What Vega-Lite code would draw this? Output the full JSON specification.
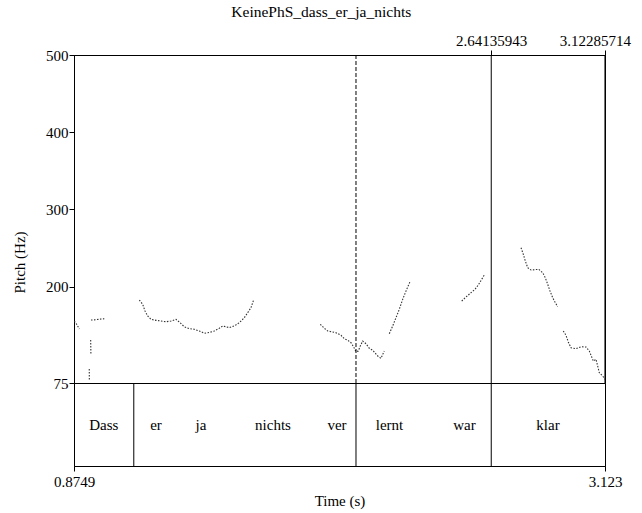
{
  "$schema": "https://vega.github.io/schema/vega-lite/v6.json",
  "background": "white",
  "padding": {"left": 11, "top": 5, "right": 5, "bottom": 5},
  "bounds": "flush",
  "title": {"text": "KeinePhS_dass_er_ja_nichts", "font": "Liberation Serif", "fontSize": 15.5, "fontWeight": "normal", "color": "black", "offset": 12, "anchor": "middle"},
  "config": {
    "view": {"stroke": "black", "strokeWidth": 1},
    "font": "Liberation Serif",
    "axis": {"labelFont": "Liberation Serif", "titleFont": "Liberation Serif", "labelFontSize": 15, "titleFontSize": 15, "titleFontWeight": "normal", "labelColor": "black", "titleColor": "black", "domainColor": "black", "tickColor": "black", "grid": false},
    "text": {"font": "Liberation Serif"}
  },
  "spacing": 0,
  "vconcat": [
    {
      "width": 531,
      "height": 328,
      "layer": [
        {
          "data": {"values": [
            {"seg": "A", "t": 0.8762, "hz": 155.3}, {"seg": "A", "t": 0.8855, "hz": 151.4}, {"seg": "A", "t": 0.8973, "hz": 145.0},
            {"seg": "B", "t": 0.9469, "hz": 156.6}, {"seg": "B", "t": 0.968, "hz": 157.0}, {"seg": "B", "t": 0.9892, "hz": 157.9}, {"seg": "B", "t": 1.0032, "hz": 158.3},
            {"seg": "C", "t": 0.9455, "hz": 130.7}, {"seg": "C", "t": 0.946, "hz": 121.6}, {"seg": "C", "t": 0.9465, "hz": 112.6},
            {"seg": "D", "t": 0.9395, "hz": 93.1}, {"seg": "D", "t": 0.9397, "hz": 85.4}, {"seg": "D", "t": 0.9399, "hz": 77.6},
            {"seg": "E", "t": 1.1514, "hz": 182.5}, {"seg": "E", "t": 1.1658, "hz": 177.0}, {"seg": "E", "t": 1.1755, "hz": 168.3}, {"seg": "E", "t": 1.1869, "hz": 161.8}, {"seg": "E", "t": 1.2009, "hz": 157.5}, {"seg": "E", "t": 1.2221, "hz": 156.2}, {"seg": "E", "t": 1.2432, "hz": 155.3}, {"seg": "E", "t": 1.2644, "hz": 154.4}, {"seg": "E", "t": 1.2856, "hz": 155.3}, {"seg": "E", "t": 1.3067, "hz": 157.5}, {"seg": "E", "t": 1.3207, "hz": 154.0}, {"seg": "E", "t": 1.3419, "hz": 147.9}, {"seg": "E", "t": 1.363, "hz": 145.4}, {"seg": "E", "t": 1.3842, "hz": 144.6}, {"seg": "E", "t": 1.4054, "hz": 142.4}, {"seg": "E", "t": 1.4266, "hz": 139.5}, {"seg": "E", "t": 1.4477, "hz": 140.5}, {"seg": "E", "t": 1.4689, "hz": 142.4}, {"seg": "E", "t": 1.4901, "hz": 145.9}, {"seg": "E", "t": 1.5045, "hz": 148.9}, {"seg": "E", "t": 1.5324, "hz": 146.7}, {"seg": "E", "t": 1.5536, "hz": 148.9}, {"seg": "E", "t": 1.5747, "hz": 153.1}, {"seg": "E", "t": 1.5959, "hz": 159.6}, {"seg": "E", "t": 1.6103, "hz": 166.1}, {"seg": "E", "t": 1.6243, "hz": 172.6}, {"seg": "E", "t": 1.6357, "hz": 183.0},
            {"seg": "F", "t": 1.9177, "hz": 151.1}, {"seg": "F", "t": 1.9346, "hz": 145.9}, {"seg": "F", "t": 1.949, "hz": 142.4}, {"seg": "F", "t": 1.9841, "hz": 140.2}, {"seg": "F", "t": 2.0053, "hz": 136.8}, {"seg": "F", "t": 2.0193, "hz": 132.4}, {"seg": "F", "t": 2.0337, "hz": 130.3}, {"seg": "F", "t": 2.0476, "hz": 127.2}, {"seg": "F", "t": 2.0591, "hz": 121.6}, {"seg": "F", "t": 2.0688, "hz": 115.6}, {"seg": "F", "t": 2.0785, "hz": 116.5}, {"seg": "F", "t": 2.087, "hz": 122.9}, {"seg": "F", "t": 2.0972, "hz": 129.4}, {"seg": "F", "t": 2.1111, "hz": 125.9}, {"seg": "F", "t": 2.1251, "hz": 120.0}, {"seg": "F", "t": 2.1395, "hz": 117.4}, {"seg": "F", "t": 2.1607, "hz": 110.0}, {"seg": "F", "t": 2.1746, "hz": 107.0}, {"seg": "F", "t": 2.1886, "hz": 116.5},
            {"seg": "G", "t": 2.2098, "hz": 138.9}, {"seg": "G", "t": 2.2242, "hz": 148.9}, {"seg": "G", "t": 2.2381, "hz": 159.6}, {"seg": "G", "t": 2.2521, "hz": 170.5}, {"seg": "G", "t": 2.2665, "hz": 183.4}, {"seg": "G", "t": 2.2805, "hz": 194.2}, {"seg": "G", "t": 2.2987, "hz": 207.2},
            {"seg": "H", "t": 2.5163, "hz": 181.2}, {"seg": "H", "t": 2.5345, "hz": 186.4}, {"seg": "H", "t": 2.5557, "hz": 192.0}, {"seg": "H", "t": 2.5726, "hz": 196.4}, {"seg": "H", "t": 2.5866, "hz": 202.0}, {"seg": "H", "t": 2.601, "hz": 209.4}, {"seg": "H", "t": 2.612, "hz": 214.9},
            {"seg": "I", "t": 2.7674, "hz": 250.3}, {"seg": "I", "t": 2.7771, "hz": 241.8}, {"seg": "I", "t": 2.7856, "hz": 233.1}, {"seg": "I", "t": 2.7957, "hz": 224.4}, {"seg": "I", "t": 2.8097, "hz": 221.4}, {"seg": "I", "t": 2.8423, "hz": 222.3}, {"seg": "I", "t": 2.8592, "hz": 217.9}, {"seg": "I", "t": 2.8702, "hz": 211.4}, {"seg": "I", "t": 2.8804, "hz": 202.9}, {"seg": "I", "t": 2.8901, "hz": 194.2}, {"seg": "I", "t": 2.9016, "hz": 185.5}, {"seg": "I", "t": 2.9126, "hz": 179.0}, {"seg": "I", "t": 2.9227, "hz": 173.9},
            {"seg": "J", "t": 2.9464, "hz": 142.4}, {"seg": "J", "t": 2.9579, "hz": 136.8}, {"seg": "J", "t": 2.9676, "hz": 128.1}, {"seg": "J", "t": 2.9791, "hz": 120.7}, {"seg": "J", "t": 3.0002, "hz": 119.4}, {"seg": "J", "t": 3.0214, "hz": 122.0}, {"seg": "J", "t": 3.0426, "hz": 121.6}, {"seg": "J", "t": 3.0565, "hz": 116.5}, {"seg": "J", "t": 3.068, "hz": 107.8}, {"seg": "J", "t": 3.0735, "hz": 103.5}, {"seg": "J", "t": 3.0849, "hz": 105.7}, {"seg": "J", "t": 3.0921, "hz": 97.0}, {"seg": "J", "t": 3.0989, "hz": 88.3}, {"seg": "J", "t": 3.1132, "hz": 84.1}, {"seg": "J", "t": 3.123, "hz": 79.8}
          ]},
          "mark": {"type": "line", "stroke": "#333333", "strokeWidth": 1.1, "strokeDash": [1.5, 1.5]},
          "encoding": {
            "x": {"field": "t", "type": "quantitative", "scale": {"domain": [0.8749, 3.123], "nice": false, "zero": false},
                  "axis": {"orient": "top", "values": [2.64135943, 3.12285714], "format": ".8f", "tickSize": 5, "labelPadding": 2, "labelFlush": false, "title": null,
                           "labelOffset": {"condition": {"test": "datum.value > 3", "value": -10}, "value": 0}}},
            "y": {"field": "hz", "type": "quantitative", "scale": {"domain": [75, 500], "nice": false, "zero": false},
                  "axis": {"values": [75, 200, 300, 400, 500], "tickSize": 5, "labelPadding": 1, "title": "Pitch (Hz)", "titleX": -47, "titleY": 207}},
            "detail": {"field": "seg"}
          }
        },
        {
          "data": {"values": [{"t": 2.0688}]},
          "mark": {"type": "rule", "color": "black", "strokeWidth": 1, "strokeDash": [4, 2]},
          "encoding": {"x": {"field": "t", "type": "quantitative"}}
        },
        {
          "data": {"values": [{"t": 2.64135943}, {"t": 3.12285714}]},
          "mark": {"type": "rule", "color": "black", "strokeWidth": 1},
          "encoding": {"x": {"field": "t", "type": "quantitative"}}
        }
      ]
    },
    {
      "width": 531,
      "height": 83,
      "layer": [
        {
          "data": {"values": [{"t": 1.128}, {"t": 2.0688}, {"t": 2.64135943}]},
          "mark": {"type": "rule", "color": "black", "strokeWidth": 1},
          "encoding": {
            "x": {"field": "t", "type": "quantitative", "scale": {"domain": [0.8749, 3.123], "nice": false, "zero": false},
                  "axis": {"orient": "bottom", "values": [0.8749, 3.123], "format": ".4~f", "tickSize": 5, "labelPadding": 3, "labelFlush": false, "title": "Time (s)", "titlePadding": 4}}
          }
        },
        {
          "data": {"values": [
            {"t": 1.001, "label": "Dass"}, {"t": 1.222, "label": "er"}, {"t": 1.4126, "label": "ja"}, {"t": 1.7174, "label": "nichts"}, {"t": 1.9884, "label": "ver"},
            {"t": 2.2105, "label": "lernt"}, {"t": 2.5278, "label": "war"}, {"t": 2.8817, "label": "klar"}
          ]},
          "mark": {"type": "text", "font": "Liberation Serif", "fontSize": 15, "color": "black"},
          "encoding": {
            "x": {"field": "t", "type": "quantitative"},
            "text": {"field": "label"}
          }
        }
      ]
    }
  ]
}
